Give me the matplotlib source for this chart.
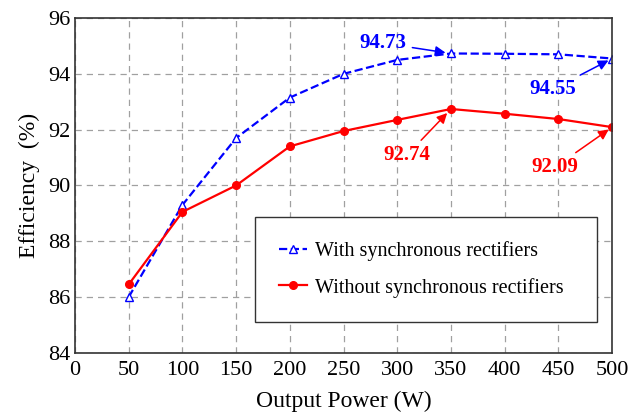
import numpy as np
import matplotlib
matplotlib.use('Agg')
import matplotlib.pyplot as plt

# output power (W)
power = [50, 100, 150, 200, 250, 300, 350, 400, 450, 500]
# efficiency (%)
eff_sync = [86.0, 89.3, 91.7, 93.15, 94.0, 94.5, 94.73, 94.72, 94.7, 94.55]
eff_nosync = [86.45, 89.05, 90.0, 91.4, 91.95, 92.35, 92.74, 92.57, 92.38, 92.09]

plt.rcParams['font.family'] = ['Liberation Serif', 'DejaVu Serif']

fig = plt.figure(figsize=(6.41, 4.2), dpi=100)
ax = fig.add_axes([0.117, 0.16, 0.838, 0.797])

ax.plot(power, eff_sync, color='blue', linestyle='--', linewidth=1.6, marker='^',
        markersize=6, markerfacecolor='white', markeredgecolor='blue',
        label='With synchronous rectifiers')
ax.plot(power, eff_nosync, color='red', linestyle='-', linewidth=1.6, marker='o',
        markersize=5.5, label='Without synchronous rectifiers')

ax.set_xlim(0, 500)
ax.set_ylim(84, 96)
ax.set_xticks(np.arange(0, 501, 50))
ax.set_yticks(np.arange(84, 97, 2))
ax.tick_params(length=0, labelsize=16)
ax.tick_params(axis='x', pad=6)
ax.tick_params(axis='y', pad=3)
ax.grid(True, linestyle=(0, (5, 4)), color='#a0a0a0', linewidth=0.9)
for s in ax.spines.values():
    s.set_linewidth(1.2)
    s.set_color('#333333')

ax.set_xlabel('Output Power (W)', fontsize=17, labelpad=8)
ax.set_ylabel('Efficiency  (%)', fontsize=17, labelpad=6)

akw = dict(fontsize=15, fontweight='bold', ha='center', va='center')
ax.annotate('94.73', xy=(350, 94.73), xytext=(287, 95.1), color='blue',
            arrowprops=dict(arrowstyle='-|>', color='blue', lw=1.1, shrinkB=4), **akw)
ax.annotate('94.55', xy=(500, 94.55), xytext=(445, 93.45), color='blue',
            arrowprops=dict(arrowstyle='-|>', color='blue', lw=1.1, shrinkB=3), **akw)
ax.annotate('92.74', xy=(350, 92.74), xytext=(309, 91.09), color='red',
            arrowprops=dict(arrowstyle='-|>', color='red', lw=1.1, shrinkB=4), **akw)
ax.annotate('92.09', xy=(500, 92.09), xytext=(447, 90.66), color='red',
            arrowprops=dict(arrowstyle='-|>', color='red', lw=1.1, shrinkB=3), **akw)

leg = ax.legend(loc='lower left', bbox_to_anchor=(0.335, 0.093, 0.637, 0.317),
                mode='expand', borderaxespad=0, fontsize=14.5, handlelength=1.4,
                handletextpad=0.4, fancybox=False, framealpha=1, edgecolor='#333333',
                borderpad=1.2, labelspacing=0.8)
leg.get_frame().set_linewidth(1.0)

fig.savefig('out.png', dpi=100)
